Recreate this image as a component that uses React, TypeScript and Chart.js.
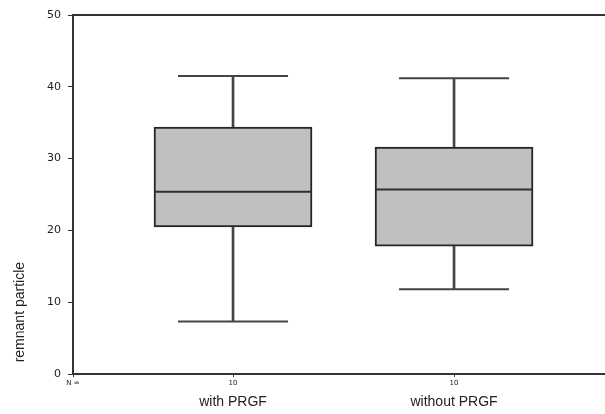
import React, { useEffect, useRef } from 'react';
import { Chart, registerables } from 'chart.js';

Chart.register(...registerables);

// ---- data ----
const categories = ['with PRGF', 'without PRGF'];
const nCounts = [10, 10];
const mins = [7.3, 11.8];
const q1s = [20.5, 17.8];
const medians = [25.4, 25.7];
const q3s = [34.4, 31.6];
const maxs = [41.5, 41.2];
const nLabel = 'N =';
const yTitle = 'remnant particle';

const positions = categories.map((_, i) => i + 1);
const X_MIN = 0.276;
const X_MAX = 2.683;

export default function App() {
  const ref = useRef<HTMLCanvasElement | null>(null);

  useEffect(() => {
    if (!ref.current) return;
    const whiskerData = positions.map((x, i) => ({ x, y: [mins[i], maxs[i]] }));
    const boxData = positions.map((x, i) => ({ x, y: [q1s[i], q3s[i]] }));
    const medianData = positions.map((x, i) => ({ x, y: medians[i] }));
    const capData = positions.flatMap((x, i) => [
      { x, y: maxs[i] },
      { x, y: mins[i] },
    ]);

    const chart = new Chart(ref.current, {
      type: 'bar',
      data: {
        datasets: [
          {
            type: 'bar',
            data: whiskerData as any,
            backgroundColor: '#444444',
            borderWidth: 0,
            barThickness: 2,
            grouped: false,
            order: 3,
            xAxisID: 'x',
            yAxisID: 'y',
          } as any,
          {
            type: 'bar',
            data: boxData as any,
            backgroundColor: '#c0c0c0',
            borderColor: '#262626',
            borderWidth: 2,
            borderSkipped: false,
            barThickness: 158,
            grouped: false,
            order: 2,
            xAxisID: 'x',
            yAxisID: 'y',
          } as any,
          {
            type: 'line',
            data: medianData as any,
            showLine: false,
            pointStyle: 'line',
            pointRadius: 78,
            pointBorderWidth: 2,
            pointBorderColor: '#2e2e2e',
            pointBackgroundColor: '#2e2e2e',
            order: 1,
            xAxisID: 'x',
            yAxisID: 'y',
          } as any,
          {
            type: 'line',
            data: capData as any,
            showLine: false,
            pointStyle: 'line',
            pointRadius: 55,
            pointBorderWidth: 2,
            pointBorderColor: '#444444',
            pointBackgroundColor: '#444444',
            order: 0,
            xAxisID: 'x',
            yAxisID: 'y',
          } as any,
        ],
      },
      options: {
        responsive: false,
        animation: false,
        devicePixelRatio: 1,
        events: [],
        layout: { autoPadding: false, padding: { top: 15, left: 0, right: 0, bottom: 0 } },
        plugins: {
          legend: { display: false },
          tooltip: { enabled: false },
          title: { display: false },
        },
        scales: {
          x: {
            type: 'linear',
            position: 'bottom',
            min: X_MIN,
            max: X_MAX,
            offset: false,
            weight: 0,
            grid: {
              display: true,
              drawOnChartArea: false,
              drawTicks: true,
              tickLength: 3,
              color: '#333333',
              lineWidth: 1,
              offset: false,
            },
            border: { display: true, color: '#333333', width: 2 },
            afterBuildTicks: (s: any) => {
              s.ticks = [{ value: X_MIN }, ...positions.map((v) => ({ value: v }))];
            },
            afterFit: (s: any) => {
              s.height = 14;
            },
            ticks: {
              autoSkip: false,
              maxRotation: 0,
              minRotation: 0,
              padding: 2,
              color: '#222222',
              font: { family: 'DejaVu Sans', size: 7 },
              callback: (v: any) =>
                v === X_MIN ? nLabel : String(nCounts[positions.indexOf(v)]),
            },
          },
          xLabels: {
            type: 'linear',
            position: 'bottom',
            min: X_MIN,
            max: X_MAX,
            offset: false,
            weight: 1,
            grid: { display: false, drawTicks: false, offset: false },
            border: { display: false },
            afterBuildTicks: (s: any) => {
              s.ticks = positions.map((v) => ({ value: v }));
            },
            afterFit: (s: any) => {
              s.height = 26;
            },
            ticks: {
              autoSkip: false,
              maxRotation: 0,
              minRotation: 0,
              padding: 6,
              color: '#222222',
              font: { family: 'Liberation Sans', size: 14 },
              callback: (v: any) => categories[positions.indexOf(v)],
            },
          },
          xTop: {
            type: 'linear',
            position: 'top',
            min: X_MIN,
            max: X_MAX,
            offset: false,
            grid: { display: false, drawTicks: false },
            border: { display: true, color: '#333333', width: 2 },
            ticks: { display: false },
          },
          y: {
            type: 'linear',
            position: 'left',
            min: 0,
            max: 50,
            grid: {
              display: true,
              drawOnChartArea: false,
              drawTicks: true,
              tickLength: 5,
              color: '#333333',
              lineWidth: 1,
            },
            border: { display: true, color: '#333333', width: 2 },
            afterFit: (s: any) => {
              s.width = 73;
            },
            ticks: {
              stepSize: 10,
              padding: 7,
              color: '#222222',
              font: { family: 'DejaVu Sans', size: 11 },
            },
            title: {
              display: true,
              text: '   ' + yTitle,
              align: 'start',
              padding: { top: 12, bottom: 0 },
              color: '#222222',
              font: { family: 'Liberation Sans', size: 14 },
            },
          },
        },
      } as any,
    });

    return () => chart.destroy();
  }, []);

  return (
    <div style={{ position: 'absolute', left: 0, top: 0, width: 605, height: 414 }}>
      <canvas ref={ref} width={605} height={414} />
    </div>
  );
}
